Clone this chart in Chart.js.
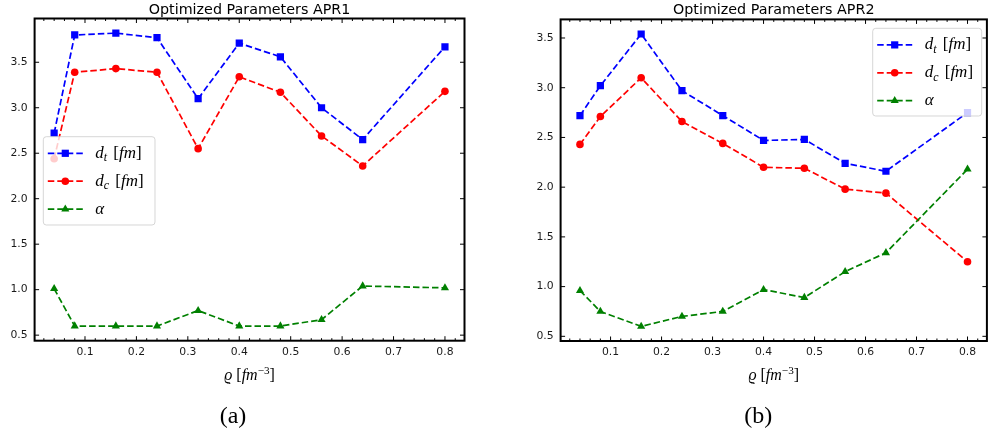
<!DOCTYPE html>
<html>
<head>
<meta charset="utf-8">
<script src="https://cdn.jsdelivr.net/npm/chart.js@4.4.1/dist/chart.umd.min.js"></script>
<style>
  body { margin: 0; background: #fff; }
  .panel { position: absolute; top: 0; }
</style>
</head>
<body>
<canvas id="apr1" class="panel" width="496" height="443" style="left:0"></canvas>
<canvas id="apr2" class="panel" width="496" height="443" style="left:496px"></canvas>
<script>
// density grid shared by both panels
const rho = [0.04, 0.08, 0.16, 0.24, 0.32, 0.40, 0.48, 0.56, 0.64, 0.80];

const apr1Dt    = [2.72, 3.80, 3.82, 3.77, 3.10, 3.71, 3.56, 3.00, 2.65, 3.67];
const apr1Dc    = [2.44, 3.39, 3.43, 3.39, 2.55, 3.34, 3.17, 2.69, 2.36, 3.18];
const apr1Alpha = [1.01, 0.60, 0.60, 0.60, 0.77, 0.60, 0.60, 0.67, 1.04, 1.02];

const apr2Dt    = [2.72, 3.02, 3.54, 2.97, 2.72, 2.47, 2.48, 2.24, 2.16, 2.75];
const apr2Dc    = [2.43, 2.71, 3.10, 2.66, 2.44, 2.20, 2.19, 1.98, 1.94, 1.25];
const apr2Alpha = [0.96, 0.75, 0.60, 0.70, 0.75, 0.97, 0.89, 1.15, 1.34, 2.18];

const xTicks = [0.1, 0.2, 0.3, 0.4, 0.5, 0.6, 0.7, 0.8];
const yTicks = [0.5, 1.0, 1.5, 2.0, 2.5, 3.0, 3.5];
const xMinorStep = 0.02;

const titles = ['Optimized Parameters APR1', 'Optimized Parameters APR2'];
const captions = ['(a)', '(b)'];

// math labels as [text, style] runs: i = italic, r = roman, sub / sup = small
const seriesLabels = [
  [['d', 'i'], ['t', 'sub'], [' [', 'r'], ['fm', 'i'], [']', 'r']],
  [['d', 'i'], ['c', 'sub'], [' [', 'r'], ['fm', 'i'], [']', 'r']],
  [['α', 'i']]
];
const xLabel = [['ϱ', 'i'], [' [', 'r'], ['fm', 'i'], ['−3', 'sup'], [']', 'r']];

const MATH = '"Liberation Serif"';

function runFont(style, size) {
  const small = style === 'sub' || style === 'sup';
  const s = small ? size * 0.7 : size;
  const it = (style === 'r' || style === 'sup') ? '' : 'italic ';
  return it + s + 'px ' + MATH;
}

function drawRuns(ctx, runs, x, y, size, align) {
  ctx.save();
  ctx.textBaseline = 'alphabetic';
  ctx.textAlign = 'left';
  ctx.fillStyle = '#000';
  let total = 0;
  for (const [t, st] of runs) { ctx.font = runFont(st, size); total += ctx.measureText(t).width; }
  let cx = align === 'center' ? x - total / 2 : x;
  for (const [t, st] of runs) {
    ctx.font = runFont(st, size);
    const dy = st === 'sub' ? size * 0.2 : st === 'sup' ? -size * 0.38 : 0;
    ctx.fillText(t, cx, y + dy);
    cx += ctx.measureText(t).width + (st === 'sub' ? 2 : 0);
  }
  ctx.restore();
}

function drawLegend(ctx, box, datasets) {
  ctx.save();
  ctx.beginPath();
  ctx.roundRect(box.x, box.y, box.w, box.h, 3);
  ctx.fillStyle = 'rgba(255,255,255,0.8)';
  ctx.fill();
  ctx.strokeStyle = 'rgba(204,204,204,0.8)';
  ctx.lineWidth = 1;
  ctx.stroke();
  datasets.forEach((ds, i) => {
    const y = box.y + 16.6 + i * 27.9;
    ctx.strokeStyle = ds.borderColor;
    ctx.lineWidth = ds.borderWidth;
    ctx.setLineDash(ds.borderDash);
    ctx.beginPath();
    ctx.moveTo(box.x + 4.5, y);
    ctx.lineTo(box.x + 39.5, y);
    ctx.stroke();
    ctx.setLineDash([]);
    ctx.fillStyle = ds.pointBackgroundColor;
    Chart.helpers.drawPoint(ctx, { pointStyle: ds.pointStyle, radius: ds.pointRadius, borderWidth: 0, rotation: 0 }, box.x + 22, y);
    drawRuns(ctx, seriesLabels[i], box.x + 52, y + 4.5, 17, 'left');
  });
  ctx.restore();
}

// inward ticks on all four sides, frame, legend, title and captions
const axesFrame = {
  id: 'axesFrame',
  afterDraw(chart, args, opts) {
    const { ctx, chartArea: a, scales: { x, y } } = chart;
    ctx.save();
    ctx.strokeStyle = '#000';
    ctx.lineWidth = 1;
    ctx.beginPath();
    for (const v of xTicks) {
      const px = x.getPixelForValue(v);
      ctx.moveTo(px, a.bottom); ctx.lineTo(px, a.bottom - 4.5);
      ctx.moveTo(px, a.top); ctx.lineTo(px, a.top + 4.5);
    }
    for (let k = Math.ceil(x.min / xMinorStep); k * xMinorStep <= x.max; k++) {
      if (k % 5 === 0) continue;
      const px = x.getPixelForValue(k * xMinorStep);
      ctx.moveTo(px, a.bottom); ctx.lineTo(px, a.bottom - 2.5);
      ctx.moveTo(px, a.top); ctx.lineTo(px, a.top + 2.5);
    }
    for (const v of yTicks) {
      if (v < y.min || v > y.max) continue;
      const py = y.getPixelForValue(v);
      ctx.moveTo(a.left, py); ctx.lineTo(a.left + 4.5, py);
      ctx.moveTo(a.right, py); ctx.lineTo(a.right - 4.5, py);
    }
    ctx.stroke();
    ctx.lineWidth = 2;
    ctx.strokeRect(a.left, a.top, a.right - a.left, a.bottom - a.top);

    drawLegend(ctx, opts.legendBox, chart.data.datasets);

    ctx.fillStyle = '#000';
    ctx.font = '14.3px "DejaVu Sans"';
    ctx.textAlign = 'center';
    ctx.textBaseline = 'alphabetic';
    ctx.fillText(opts.title, (a.left + a.right) / 2, 13.5);

    drawRuns(ctx, xLabel, (a.left + a.right) / 2, 380, 16, 'center');

    ctx.font = '24px ' + MATH;
    ctx.textAlign = 'center';
    ctx.fillText(opts.caption, opts.captionX, 423);
    ctx.restore();
  }
};

function series(label, xs, ys, color, style, radius, order) {
  return {
    label: label,
    data: xs.map((v, i) => ({ x: v, y: ys[i] })),
    borderColor: color,
    backgroundColor: color,
    borderWidth: 1.7,
    borderDash: [6.5, 3],
    pointStyle: style,
    pointRadius: radius,
    pointHoverRadius: radius,
    pointBackgroundColor: color,
    pointBorderWidth: 0,
    tension: 0,
    order: order
  };
}

function makeChart(id, idx, dt, dc, alpha, area, legendBox, captionX) {
  const all = dt.concat(dc, alpha);
  const yLo = Math.min(...all), yHi = Math.max(...all);
  const yPad = (yHi - yLo) * 0.05;
  const xPad = (rho[rho.length - 1] - rho[0]) * 0.05;
  const canvas = document.getElementById(id);
  const W = canvas.width, H = canvas.height;

  return new Chart(canvas, {
    type: 'line',
    data: {
      datasets: [
        series('d_t [fm]', rho, dt, '#0000ff', 'rect', 5.1, 3),
        series('d_c [fm]', rho, dc, '#ff0000', 'circle', 3.8, 2),
        series('alpha', rho, alpha, '#008000', 'triangle', 4.7, 1)
      ]
    },
    options: {
      responsive: false,
      animation: false,
      devicePixelRatio: 1,
      events: [],
      layout: { padding: { left: 0, top: area.top, right: W - area.right, bottom: 0 } },
      plugins: {
        legend: { display: false },
        tooltip: { enabled: false },
        axesFrame: { title: titles[idx], caption: captions[idx], captionX: captionX, legendBox: legendBox }
      },
      scales: {
        x: {
          type: 'linear',
          position: 'bottom',
          min: rho[0] - xPad,
          max: rho[rho.length - 1] + xPad,
          grid: { display: false, drawTicks: false, tickLength: 0 },
          border: { display: false },
          afterBuildTicks: s => { s.ticks = xTicks.map(v => ({ value: v })); },
          afterFit: s => { s.height = H - area.bottom; },
          ticks: {
            autoSkip: false, maxRotation: 0, padding: 5, color: '#1a1a1a',
            font: { family: 'DejaVu Sans', size: 10.8 },
            callback: v => v.toFixed(1)
          }
        },
        y: {
          min: yLo - yPad,
          max: yHi + yPad,
          grid: { display: false, drawTicks: false, tickLength: 0 },
          border: { display: false },
          afterBuildTicks: s => { s.ticks = yTicks.filter(v => v >= s.min && v <= s.max).map(v => ({ value: v })); },
          afterFit: s => { s.width = area.left; },
          ticks: {
            autoSkip: false, padding: 7, color: '#1a1a1a',
            font: { family: 'DejaVu Sans', size: 10.8 },
            callback: v => v.toFixed(1)
          }
        }
      }
    },
    plugins: [axesFrame]
  });
}

makeChart('apr1', 0, apr1Dt, apr1Dc, apr1Alpha,
  { left: 34.6, right: 464.5, top: 18.5, bottom: 340.7 },
  { x: 43.3, y: 136.7, w: 111.7, h: 88.3 }, 233);
makeChart('apr2', 1, apr2Dt, apr2Dc, apr2Alpha,
  { left: 64.6, right: 494.5, top: 19.4, bottom: 341 },
  { x: 376.7, y: 28.3, w: 109, h: 87.7 }, 262.3);
</script>
</body>
</html>
